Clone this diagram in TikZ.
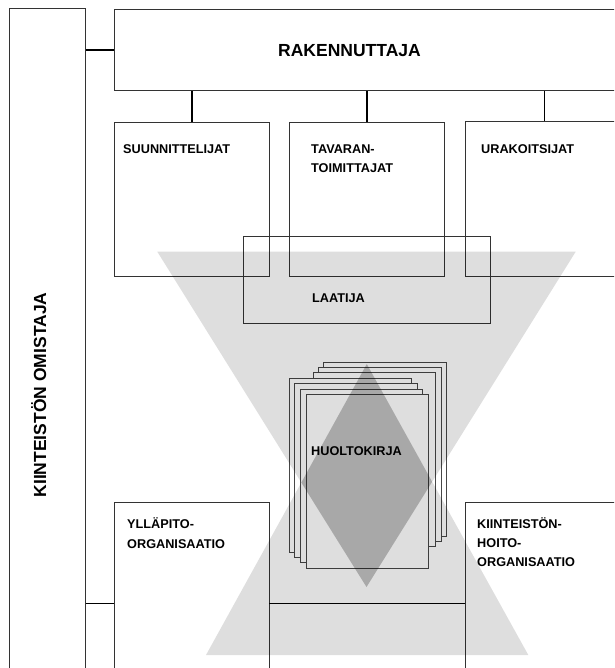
\documentclass[tikz,border=0pt]{standalone}
\usepackage{fontspec}
\setmainfont{Liberation Sans}
\begin{document}
\begin{tikzpicture}[x=1pt,y=-1pt,
  box/.style={draw=black!80, line width=0.8pt, inner sep=0pt, anchor=north west},
  conn/.style={draw=black, line width=1.8pt},
  sheet/.style={draw=black!72, line width=0.9pt, fill=white, inner sep=0pt, anchor=north west, minimum width=122.7pt, minimum height=173.5pt},
  lbl/.style={font=\bfseries\fontsize{12.7}{15}\selectfont, anchor=base west, inner sep=0pt},
  big/.style={font=\bfseries\fontsize{17.5}{20}\selectfont, inner sep=0pt, anchor=base}]
\useasboundingbox (0,0) rectangle (614,668);
\clip (0,0) rectangle (614,668);
% boxes
\node[box, minimum width=76pt, minimum height=700pt] (owner) at (9,8.3) {};
\node[box, minimum width=509pt, minimum height=81pt] (rak) at (114,9.3) {};
\node[box, minimum width=154.6pt, minimum height=154pt] (suun) at (114,122) {};
\node[box, minimum width=155pt, minimum height=154pt] (tava) at (289,122) {};
\node[box, minimum width=158pt, minimum height=155pt] (urak) at (465,121) {};
\node[box, minimum width=247pt, minimum height=87pt] (laat) at (243,236) {};
\node[box, minimum width=154.6pt, minimum height=202pt] (yllap) at (114,502) {};
\node[box, minimum width=158pt, minimum height=202pt] (kiin) at (465,502) {};
% connectors
\draw[conn] (rak.west) -- (rak.west -| owner.east);
\draw[conn] (suun.north) -- (suun.north |- rak.south);
\draw[conn] (tava.north) -- (tava.north |- rak.south);
\draw[conn] (urak.north) -- (urak.north |- rak.south);
\draw[conn] (yllap.west) -- (yllap.west -| owner.east);
\draw[conn] (yllap.east) -- (kiin.west);
% sheets
\node[sheet] (sA) at (323,362) {};
\node[sheet] (sB) at (318,367) {};
\node[sheet] (sC) at (312.5,372) {};
\node[sheet] (sD) at (288.5,378) {};
\node[sheet] (sE) at (294,383) {};
\node[sheet] (sF) at (299.5,388.5) {};
\node[sheet] (sG) at (305.5,394) {};
% translucent hourglass
\fill[black, fill opacity=0.13] (157.3,251.7) -- (575.7,251.7) -- (366.5,587) -- cycle
  (528.3,655) -- (206,655) -- (366.8,364) -- cycle;
\begin{scope}
  \clip (206,655) -- (528.3,655) -- (366.8,364) -- cycle;
  \fill[black, fill opacity=0.24] (157.3,251.7) -- (575.7,251.7) -- (366.5,587) -- cycle;
\end{scope}
% texts
\node[big] (trak) at (349.5,57) {RAKENNUTTAJA};
\node[big, rotate=90] (towner) at (46,395) {KIINTEISTÖN OMISTAJA};
\node[lbl] (tsuun) at (123,153.3) {SUUNNITTELIJAT};
\node[lbl] (ttava1) at (311,153.3) {TAVARAN-};
\node[lbl] (ttava2) at (311,172.7) {TOIMITTAJAT};
\node[lbl] (turak) at (481,153.3) {URAKOITSIJAT};
\node[lbl] (tlaat) at (312,302.7) {LAATIJA};
\node[lbl] (thuol) at (311,455) {HUOLTOKIRJA};
\node[lbl] (tyll1) at (127,528) {YLLÄPITO-};
\node[lbl] (tyll2) at (127,548) {ORGANISAATIO};
\node[lbl] (tkiin1) at (477,528) {KIINTEISTÖN-};
\node[lbl] (tkiin2) at (477,547.7) {HOITO-};
\node[lbl] (tkiin3) at (477,566.7) {ORGANISAATIO};
\end{tikzpicture}
\end{document}
